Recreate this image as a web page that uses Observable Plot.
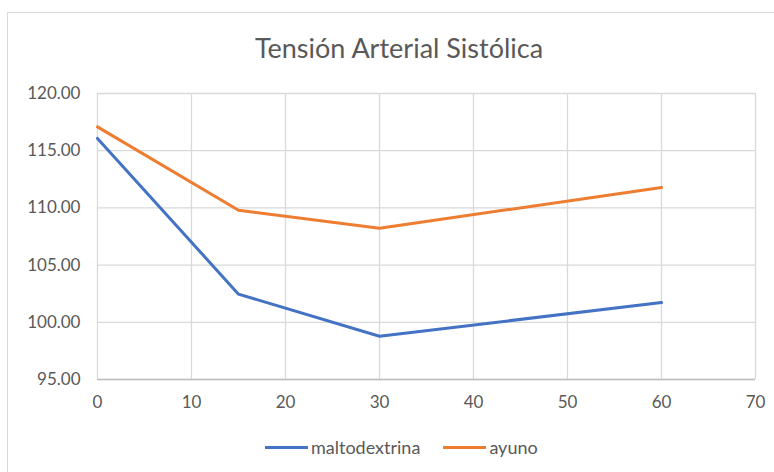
<!DOCTYPE html>
<html>
<head>
<meta charset="utf-8">
<script src="https://cdn.jsdelivr.net/npm/d3@7"></script>
<script src="https://cdn.jsdelivr.net/npm/@observablehq/plot@0.6"></script>
<style>
  html, body { margin: 0; padding: 0; background: #fff; }
  body { width: 774px; height: 472px; overflow: hidden; position: relative; font-family: Lato, "Open Sans", sans-serif; }
  #frame { position: absolute; left: 7px; top: 12px; width: 820px; height: 520px; border: 1px solid #d9d9d9; box-sizing: border-box; }
  #title { position: absolute; left: 0; width: 798px; top: 31px; text-align: center; font-size: 27px; color: #595959; }
  #chart { position: absolute; left: 0; top: 80px; }
  #legend { position: absolute; top: 436px; left: 265px; display: flex; align-items: center; font-size: 18px; color: #595959; }
  .sw { display: inline-block; width: 43px; height: 3px; margin-right: 3px; }
</style>
</head>
<body>
<div id="frame"></div>
<div id="title">Tensión Arterial Sistólica</div>
<div id="chart"></div>
<div id="legend"></div>
<script>
const tiempo = [0, 15, 30, 60];
const maltodextrina = [116.07, 102.46, 98.78, 101.73];
const ayuno = [117.08, 109.80, 108.23, 111.78];
const xTicks = [0, 10, 20, 30, 40, 50, 60, 70];
const yTicks = [95, 100, 105, 110, 115, 120];
const seriesNames = ["maltodextrina", "ayuno"];
const seriesColors = ["#4472C4", "#ED7D31"];

const data = [];
tiempo.forEach((t, i) => {
  data.push({serie: "maltodextrina", t, v: maltodextrina[i]});
  data.push({serie: "ayuno", t, v: ayuno[i]});
});

const chart = Plot.plot({
  width: 774,
  height: 340,
  marginLeft: 97,
  marginRight: 19,
  marginTop: 13,
  marginBottom: 41,
  style: { fontFamily: "Lato, 'Open Sans', sans-serif", fontSize: "17px", color: "#595959", background: "transparent" },
  x: { domain: [0, 70], ticks: xTicks, label: null },
  y: { domain: [95, 120], ticks: yTicks, label: null, tickFormat: d => d.toFixed(2) },
  color: { domain: seriesNames, range: seriesColors },
  marks: [
    Plot.gridX(xTicks, { stroke: "#d9d9d9", strokeOpacity: 1, strokeWidth: 1.3 }),
    Plot.gridY(yTicks, { stroke: "#d9d9d9", strokeOpacity: 1, strokeWidth: 1.3 }),
    Plot.ruleY([95], { stroke: "#bfbfbf", strokeWidth: 1.3 }),
    Plot.axisX(xTicks, { tickSize: 0, tickPadding: 16, fill: "#595959" }),
    Plot.axisY(yTicks, { tickSize: 0, tickPadding: 17, fill: "#595959", tickFormat: d => d.toFixed(2) }),
    Plot.line(data, { x: "t", y: "v", z: "serie", stroke: "serie", strokeWidth: 3, strokeLinejoin: "round", strokeLinecap: "round" })
  ]
});
document.getElementById("chart").appendChild(chart);

const legend = document.getElementById("legend");
seriesNames.forEach((name, i) => {
  const item = document.createElement("span");
  item.style.display = "inline-flex";
  item.style.alignItems = "center";
  item.style.marginRight = i === 0 ? "23px" : "0";
  const sw = document.createElement("span");
  sw.className = "sw";
  sw.style.background = seriesColors[i];
  item.appendChild(sw);
  item.appendChild(document.createTextNode(name));
  legend.appendChild(item);
});
</script>
</body>
</html>
